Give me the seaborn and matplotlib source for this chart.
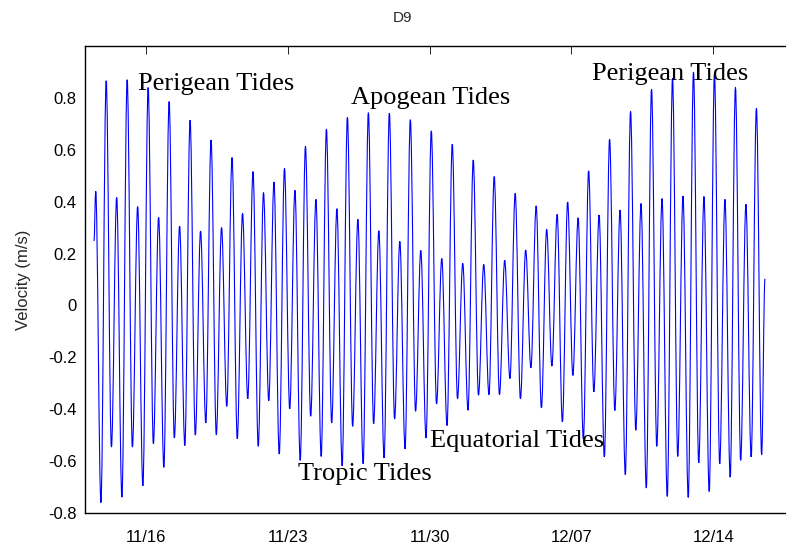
import numpy as np
import pandas as pd
import matplotlib
matplotlib.use("Agg")
import matplotlib.pyplot as plt
import matplotlib.dates as mdates
from matplotlib.path import Path
from matplotlib.patches import PathPatch
import seaborn as sns

# ---- data (velocity extrema, m/s) ----
peaks = [0.44, 0.866, 0.416, 0.87, 0.381, 0.84, 0.34, 0.786, 0.306, 0.714,
         0.287, 0.638, 0.30, 0.57, 0.355, 0.516, 0.435, 0.476, 0.528, 0.444,
         0.613, 0.409, 0.68, 0.373, 0.725, 0.332, 0.743, 0.288, 0.741, 0.247,
         0.716, 0.212, 0.673, 0.181, 0.622, 0.162, 0.561, 0.158, 0.497, 0.174,
         0.432, 0.214, 0.384, 0.293, 0.351, 0.399, 0.338, 0.519, 0.349, 0.641,
         0.368, 0.748, 0.393, 0.834, 0.412, 0.875, 0.422, 0.90, 0.42, 0.892,
         0.409, 0.84, 0.39, 0.76]
troughs = [-0.76, -0.546, -0.739, -0.546, -0.695, -0.533, -0.624, -0.511, -0.54, -0.50,
           -0.453, -0.498, -0.389, -0.514, -0.36, -0.543, -0.367, -0.573, -0.399, -0.597,
           -0.427, -0.582, -0.453, -0.618, -0.466, -0.61, -0.456, -0.588, -0.438, -0.553,
           -0.408, -0.511, -0.38, -0.463, -0.359, -0.404, -0.346, -0.344, -0.344, -0.282,
           -0.36, -0.24, -0.395, -0.234, -0.449, -0.27, -0.515, -0.333, -0.584, -0.405,
           -0.652, -0.481, -0.704, -0.543, -0.736, -0.582, -0.74, -0.607, -0.717, -0.611,
           -0.662, -0.597, -0.584, -0.575]
start_time = "2010-11-13 10:40"
start_value = 0.248
first_extremum_time = "2010-11-13 12:40"
half_period_s = 22356          # half of the M2 period (12.42 h)
end_time = "2010-12-16 13:15"
end_value = 0.103

tick_dates = ["2010-11-16", "2010-11-23", "2010-11-30", "2010-12-07", "2010-12-14"]
ytick_values = [-0.8, -0.6, -0.4, -0.2, 0, 0.2, 0.4, 0.6, 0.8]
ytick_labels = ["-0.8", "-0.6", "-0.4", "-0.2", "0", "0.2", "0.4", "0.6", "0.8"]

annotations = [
    ("Perigean Tides", "2010-11-15 14:50", 0.832),
    ("Apogean Tides", "2010-11-26 03:20", 0.775),
    ("Perigean Tides", "2010-12-08 00:00", 0.868),
    ("Equatorial Tides", "2010-11-30 00:00", -0.547),
    ("Tropic Tides", "2010-11-23 12:15", -0.673),
]

# ---- assemble series ----
extrema = []
for p, t in zip(peaks, troughs):
    extrema += [p, t]
ext_times = pd.date_range(first_extremum_time, periods=len(extrema),
                          freq=pd.Timedelta(seconds=half_period_s))
times = [pd.Timestamp(start_time)] + list(ext_times) + [pd.Timestamp(end_time)]
values = [start_value] + extrema + [end_value]
df = pd.DataFrame({"time": times, "velocity": values})

# ---- figure ----
sns.set_style("white")
plt.rcParams["font.family"] = ["Liberation Sans", "DejaVu Sans"]

fig = plt.figure(figsize=(7.86, 5.48), dpi=100)
ax = fig.add_axes([85 / 786, 1 - 513 / 548, (794.3 - 85) / 786, (513 - 46) / 548])

sns.lineplot(data=df, x="time", y="velocity", ax=ax, color="#0000FF",
             linewidth=0.8, sort=False)

# render the seaborn line as a smooth curve (horizontal tangents at each extremum)
line = ax.lines[0]
xy = line.get_xydata()
k = 1 - 2 / np.pi
verts = [tuple(xy[0])]
codes = [Path.MOVETO]
for (x0, y0), (x1, y1) in zip(xy[:-1], xy[1:]):
    h = x1 - x0
    verts += [(x0 + k * h, y0), (x1 - k * h, y1), (x1, y1)]
    codes += [Path.CURVE4] * 3
line.set_visible(False)
ax.add_patch(PathPatch(Path(verts, codes), facecolor="none", edgecolor="#0000FF",
                       linewidth=0.8, transform=line.get_transform()))

ax.set_xlim(pd.Timestamp("2010-11-13"), pd.Timestamp("2010-12-18"))
ax.set_ylim(-0.8, 1.0)
ax.set_xticks([pd.Timestamp(d) for d in tick_dates])
ax.xaxis.set_major_formatter(mdates.DateFormatter("%m/%d"))
ax.set_yticks(ytick_values)
ax.set_yticklabels(ytick_labels)

ax.set_xlabel("")
ax.set_ylabel("Velocity (m/s)", fontsize=12, labelpad=12)

for side in ["left", "top", "bottom", "right"]:
    ax.spines[side].set_visible(True)
    ax.spines[side].set_color("black")
    ax.spines[side].set_linewidth(1.0)

ax.tick_params(axis="both", direction="in", length=6, width=0.6,
               labelsize=12, colors="black", top=True, right=True)
ax.tick_params(axis="x", pad=12)
ax.tick_params(axis="y", pad=6)

for txt, t, v in annotations:
    ax.text(pd.Timestamp(t), v, txt, fontsize=19, ha="left", va="baseline",
            family=["Liberation Serif", "DejaVu Serif"], color="black")

fig.text(403 / 786, 1 - 18 / 548, "D9", ha="center", va="center", fontsize=11)

fig.savefig("out.png", dpi=100, facecolor="white")
